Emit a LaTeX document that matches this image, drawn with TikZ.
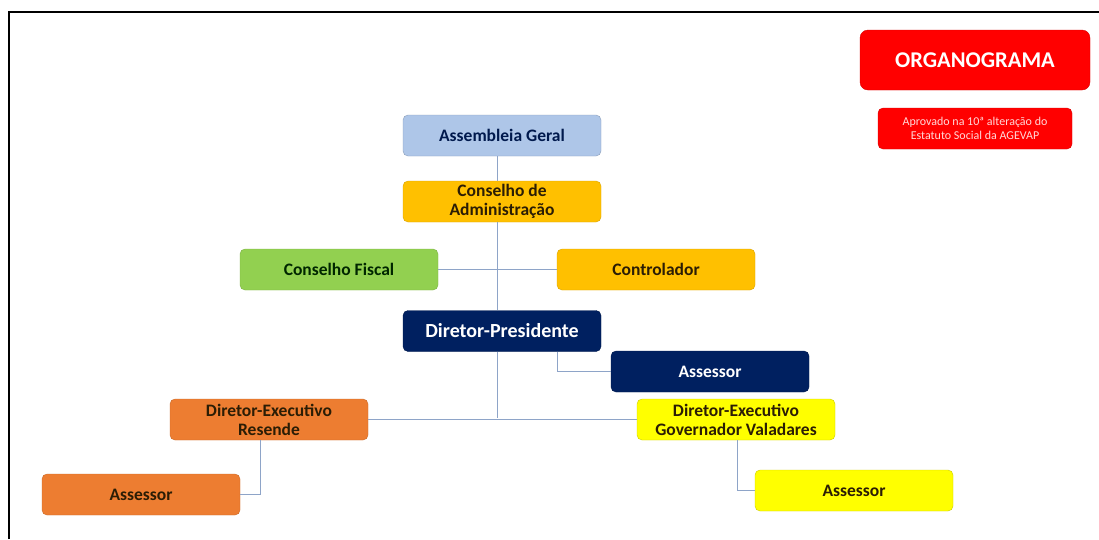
\documentclass[tikz,border=0pt]{standalone}
\usepackage{fontspec}
\setmainfont{Carlito}
\definecolor{azulclaro}{HTML}{AEC6E8}
\definecolor{ambar}{HTML}{FFC000}
\definecolor{verde}{HTML}{92D050}
\definecolor{marinho}{HTML}{002060}
\definecolor{laranja}{HTML}{ED7D31}
\definecolor{amarelo}{HTML}{FFFF00}
\definecolor{vermelho}{HTML}{FF0000}
\definecolor{linha}{HTML}{8EA4C8}
\definecolor{texto}{HTML}{2B1D05}
\begin{document}
\begin{tikzpicture}[x=1pt, y=-1pt,
  box/.style={rectangle, rounded corners=5pt, minimum width=198pt, minimum height=41pt,
    inner sep=1pt, align=center, font=\bfseries\fontsize{17.5}{19}\selectfont, text=texto},
  conn/.style={draw=linha, line width=0.9pt}]
\useasboundingbox (0,0) rectangle (1099,539);
\draw[line width=1.6pt] (9,539) -- (9,12) -- (1099,12);
\node[box, fill=azulclaro, draw=azulclaro!80!black, text=marinho!80!black] (assembleia) at (502,135.5) {Assembleia Geral};
\node[box, fill=ambar, draw=ambar!85!black] (conselhoadm) at (502,201.5) {Conselho de\\Administração};
\node[box, fill=verde, draw=verde!85!black, text=black!85!green] (fiscal) at (339,269.5) {Conselho Fiscal};
\node[box, fill=ambar, draw=ambar!85!black] (controlador) at (656,269.5) {Controlador};
\node[box, fill=marinho, draw=marinho!80!black, text=white, font=\bfseries\fontsize{20}{22}\selectfont] (presidente) at (502,331) {Diretor-Presidente};
\node[box, fill=marinho, draw=marinho!80!black, text=white] (assessordp) at (710,371.5) {Assessor};
\node[box, fill=laranja, draw=laranja!85!black] (resende) at (269,419.5) {Diretor-Executivo\\Resende};
\node[box, fill=amarelo, draw=amarelo!80!black] (valadares) at (736,419.5) {Diretor-Executivo\\Governador Valadares};
\node[box, fill=laranja, draw=laranja!85!black] (assessorres) at (141,494.5) {Assessor};
\node[box, fill=amarelo, draw=amarelo!80!black] (assessorval) at (854,490.5) {Assessor};
\node[rectangle, rounded corners=8pt, minimum width=230pt, minimum height=60pt, fill=vermelho, draw=vermelho!85!black,
  text=white, font=\bfseries\fontsize{22.5}{24}\selectfont] (titulo) at (975,60) {ORGANOGRAMA};
\node[rectangle, rounded corners=5pt, minimum width=194pt, minimum height=41pt, fill=vermelho, draw=vermelho!85!black,
  text=red!15!white, align=center, font=\fontsize{12}{14}\selectfont] (aprovado) at (975,128.5) {Aprovado na 10ª alteração do\\Estatuto Social da AGEVAP};
\coordinate (eixo) at (497,418);
\draw[conn] (assembleia.south -| eixo) -- (conselhoadm.north -| eixo);
\draw[conn] (conselhoadm.south -| eixo) -- (presidente.north -| eixo);
\draw[conn] (presidente.south -| eixo) -- (eixo);
\draw[conn] (fiscal) -- (controlador);
\draw[conn] (resende) -- (valadares);
\draw[conn] (presidente.south -| 557,0) |- (assessordp);
\draw[conn] (resende.south -| 260,0) |- (assessorres);
\draw[conn] (valadares.south -| 737,0) |- (assessorval);
\end{tikzpicture}
\end{document}
